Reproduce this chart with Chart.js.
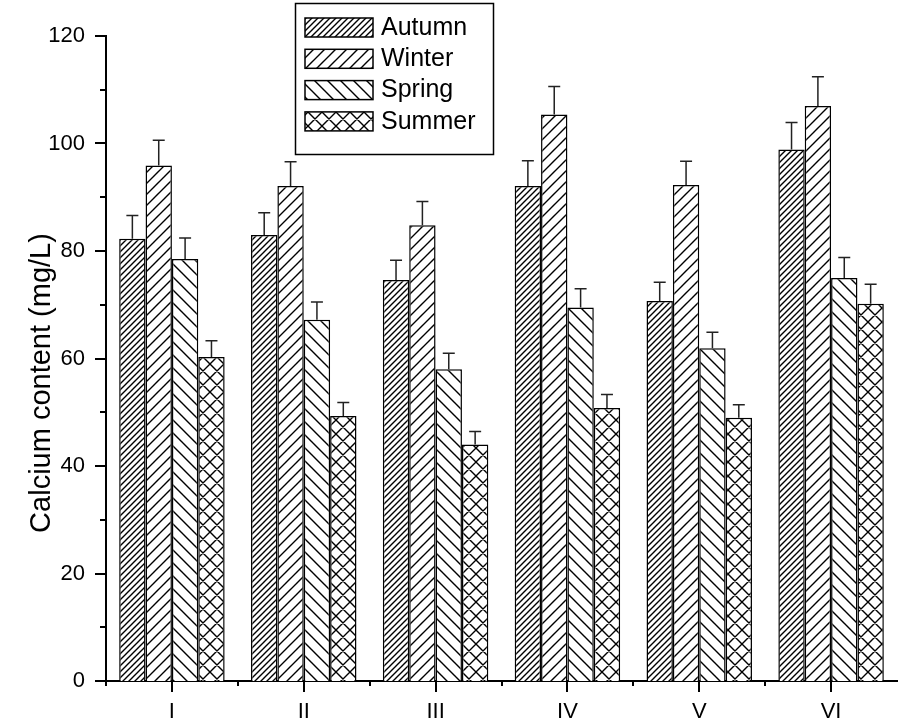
<!DOCTYPE html>
<html lang="en">
<head>
    <meta charset="UTF-8">
    <title>Calcium content by season</title>
    <script src="https://cdn.jsdelivr.net/npm/chart.js"></script>
    <style>
        body {
            margin: 0;
            padding: 0;
            background-color: #fff;
        }

        #chart {
            display: block;
        }
    </style>
</head>
<body>
    <canvas id="chart" width="898" height="728"></canvas>

    <script>
        // values (mg/L) and the upper error bars
        const categories = ['I', 'II', 'III', 'IV', 'V', 'VI'];
        const seriesNames = ['Autumn', 'Winter', 'Spring', 'Summer'];
        const autumn = [82.3, 83.0, 74.6, 92.1, 70.7, 98.9];
        const autumnErr = [4.3, 4.1, 3.7, 4.7, 3.5, 5.0];
        const winter = [95.9, 92.1, 84.8, 105.4, 92.3, 107.0];
        const winterErr = [4.7, 4.5, 4.4, 5.2, 4.4, 5.4];
        const spring = [78.5, 67.2, 58.0, 69.5, 61.9, 75.0];
        const springErr = [3.9, 3.3, 3.0, 3.5, 3.0, 3.8];
        const summer = [60.3, 49.3, 44.0, 50.8, 49.0, 70.2];
        const summerErr = [3.0, 2.5, 2.4, 2.5, 2.4, 3.6];
        const yTicks = [0, 20, 40, 60, 80, 100, 120];
        const yTitle = 'Calcium content (mg/L)';

        const FONT = '"Liberation Sans", Arial, sans-serif';

        // hatch fill: kind is 'fwd' (/), 'back' (\) or 'cross'
        function makeHatch(kind, p) {
            const c = document.createElement('canvas');
            c.width = p;
            c.height = p;
            const g = c.getContext('2d');
            g.fillStyle = '#fff';
            g.fillRect(0, 0, p, p);
            g.strokeStyle = '#000';
            g.lineWidth = 1.4;
            g.beginPath();
            if (kind === 'fwd' || kind === 'cross') {
                g.moveTo(-1, p + 1); g.lineTo(p + 1, -1);
                g.moveTo(-2, 2); g.lineTo(2, -2);
                g.moveTo(p - 2, p + 2); g.lineTo(p + 2, p - 2);
            }
            if (kind === 'back' || kind === 'cross') {
                g.moveTo(-1, -1); g.lineTo(p + 1, p + 1);
                g.moveTo(p - 2, -2); g.lineTo(p + 2, 2);
                g.moveTo(-2, p - 2); g.lineTo(2, p + 2);
            }
            g.stroke();
            return g.createPattern(c, 'repeat');
        }

        const ctx = document.getElementById('chart').getContext('2d');
        const fills = [
            makeHatch('fwd', 6),
            makeHatch('fwd', 11),
            makeHatch('back', 13),
            makeHatch('cross', 14)
        ];
        const values = [autumn, winter, spring, summer];
        const errors = [autumnErr, winterErr, springErr, summerErr];

        // upper error bars with caps
        const errorBars = {
            id: 'errorBars',
            afterDatasetsDraw(chart) {
                const c = chart.ctx;
                const y = chart.scales.y;
                c.save();
                c.strokeStyle = '#222';
                c.lineWidth = 1.5;
                chart.data.datasets.forEach((ds, i) => {
                    const meta = chart.getDatasetMeta(i);
                    meta.data.forEach((bar, j) => {
                        const top = y.getPixelForValue(ds.data[j]);
                        const end = y.getPixelForValue(ds.data[j] + ds.errors[j]);
                        c.beginPath();
                        c.moveTo(bar.x, top);
                        c.lineTo(bar.x, end);
                        c.moveTo(bar.x - 6, end);
                        c.lineTo(bar.x + 6, end);
                        c.stroke();
                    });
                });
                c.restore();
            }
        };

        // tick marks, y title and the boxed legend
        const decorations = {
            id: 'decorations',
            afterDraw(chart) {
                const c = chart.ctx;
                const area = chart.chartArea;
                const x = chart.scales.x;
                const y = chart.scales.y;
                c.save();
                c.strokeStyle = '#000';
                c.lineWidth = 2;
                c.beginPath();
                for (let v = 0; v <= 120; v += 10) {
                    const py = Math.round(y.getPixelForValue(v));
                    const len = v % 20 === 0 ? 11 : 6;
                    c.moveTo(area.left, py);
                    c.lineTo(area.left - len, py);
                }
                const step = (area.right - area.left) / categories.length;
                for (let i = 0; i < categories.length; i++) {
                    const px = Math.round(x.getPixelForValue(i));
                    c.moveTo(px, area.bottom);
                    c.lineTo(px, area.bottom + 11);
                    const bx = Math.round(area.left + step * i);
                    c.moveTo(bx, area.bottom);
                    c.lineTo(bx, area.bottom + 5);
                }
                c.stroke();

                // y axis title
                c.fillStyle = '#000';
                c.font = '29px ' + FONT;
                c.textAlign = 'center';
                c.textBaseline = 'alphabetic';
                c.translate(50, 383);
                c.rotate(-Math.PI / 2);
                c.fillText(yTitle, 0, 0);
                c.restore();

                // legend
                c.save();
                c.strokeStyle = '#000';
                c.lineWidth = 1.5;
                c.strokeRect(295.5, 3.5, 198, 151);
                c.font = '25px ' + FONT;
                c.textAlign = 'left';
                c.textBaseline = 'middle';
                chart.data.datasets.forEach((ds, i) => {
                    const top = 18 + i * 31.3;
                    c.fillStyle = ds.backgroundColor;
                    c.fillRect(305, top, 68, 19);
                    c.strokeRect(305, top, 68, 19);
                    c.fillStyle = '#000';
                    c.fillText(ds.label, 381, top + 10);
                });
                c.restore();
            }
        };

        new Chart(ctx, {
            type: 'bar',
            data: {
                labels: categories,
                datasets: seriesNames.map((name, i) => ({
                    label: name,
                    data: values[i],
                    errors: errors[i],
                    backgroundColor: fills[i],
                    borderColor: '#000',
                    borderWidth: 1.5,
                    barPercentage: 1,
                    categoryPercentage: 0.8
                }))
            },
            options: {
                responsive: false,
                animation: false,
                events: [],
                layout: {
                    padding: { left: 0, right: 1, top: 36, bottom: 0 }
                },
                plugins: {
                    legend: { display: false },
                    tooltip: { enabled: false }
                },
                scales: {
                    x: {
                        grid: { display: false, drawTicks: false },
                        border: { display: true, color: '#000', width: 2 },
                        ticks: {
                            color: '#000',
                            font: { family: FONT, size: 22 },
                            padding: 18
                        },
                        afterFit(scale) { scale.height = 47; }
                    },
                    y: {
                        min: 0,
                        max: 120,
                        grid: { display: false, drawTicks: false },
                        border: { display: true, color: '#000', width: 2 },
                        ticks: {
                            stepSize: 20,
                            color: '#000',
                            font: { family: FONT, size: 22 },
                            padding: 21,
                            callback: (v) => yTicks.includes(v) ? v : ''
                        },
                        afterFit(scale) { scale.width = 106; }
                    }
                }
            },
            plugins: [errorBars, decorations]
        });
    </script>
</body>
</html>
